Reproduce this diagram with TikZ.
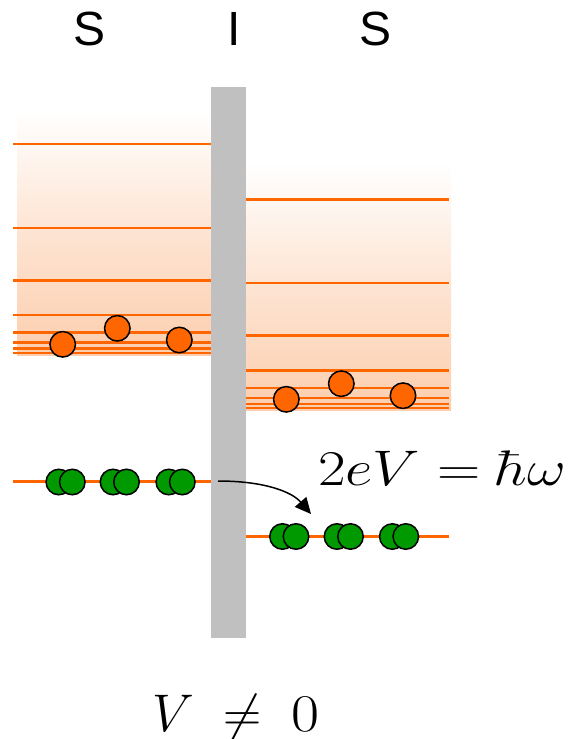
\RequirePackage{fix-cm}
\documentclass[tikz,border=0pt]{standalone}
\usepackage{fontspec}
\newfontfamily\sisfont{Liberation Sans}
\usetikzlibrary{arrows.meta}
\definecolor{lvl}{RGB}{255,102,0}
\definecolor{peach}{RGB}{252,206,174}
\definecolor{barrierc}{RGB}{192,192,192}
\definecolor{pairc}{RGB}{0,153,0}
\tikzset{
  level/.style={draw=lvl, line width=2.4pt},
  ground/.style={draw=lvl, line width=2.2pt},
  qp/.style={circle, draw=black, fill=lvl, line width=1.5pt, minimum size=25.5pt, inner sep=0pt},
  cp/.style={circle, draw=black, fill=pairc, line width=1.5pt, minimum size=25.5pt, inner sep=0pt},
  lab/.style={font=\sisfont\fontsize{48}{50}\selectfont, anchor=base, inner sep=0pt},
  bandfill/.style={top color=white, bottom color=peach, middle color=peach!55!white, draw=none},
}
\begin{document}
\begin{tikzpicture}[x=1pt,y=-1pt]
\useasboundingbox (0,0) rectangle (579,739);
% labels
\node[lab] (s1) at (90,45) {S};
\node[lab] (i) at (233.7,45) {I};
\node[lab] (s2) at (376,45) {S};
% bands
\shade[bandfill] (17,110) rectangle (211,355);
\shade[bandfill] (246,163) rectangle (451,410);
\foreach \y in {143.7,227.7,280.3,315,332.3,342.3,348.3,352.7}
  \draw[level] (13,\y) -- (211,\y);
\foreach \y in {199.3,283,335.3,370.3,388,398,403.7,408}
  \draw[level] (246,\y) -- (449,\y);
% quasiparticles
\node[qp] (qa) at (62.7,344.3) {};
\node[qp] (qb) at (117.3,328.3) {};
\node[qp] (qc) at (179.3,340) {};
\node[qp] (qd) at (286.3,399.3) {};
\node[qp] (qe) at (341.3,383.7) {};
\node[qp] (qf) at (403,395.7) {};
% ground levels
\draw[ground] (13,481.5) -- (211,481.5);
\draw[ground] (246,536.5) -- (449,536.5);
% cooper pairs
\foreach \n/\x/\y in {l1/58.8/482, l2/113/482, l3/168.8/482, r1/282.5/536.5, r2/337/536.5, r3/392.3/536.5}{
  \node[cp] (\n a) at (\x,\y) {};
  \node[cp] (\n b) at (\x+13.5,\y) {};
}
% barrier
\fill[barrierc] (211,87.3) rectangle (245.5,637.7);
% transfer arrow
\coordinate (from) at (218,481);
\coordinate (to) at (311,514);
\draw[line width=1.5pt, -{Triangle[length=16pt,width=15pt]}] (from) .. controls (265,481) and (292,492) .. (to);
% formulas
\node[anchor=base west, inner sep=0pt, font=\fontsize{50}{54}\selectfont] (eq) at (318,485)
  {\scalebox{1.2}[1]{${2eV}\hspace{14pt}{=}\hspace{13pt}{\hbar\omega}$}};
\node[anchor=base west, inner sep=0pt, font=\fontsize{53}{57}\selectfont] (v) at (152,731)
  {${V}\hspace{30pt}{\neq}\hspace{29pt}{\scalebox{1.15}[1]{$0$}}$};
\end{tikzpicture}
\end{document}
